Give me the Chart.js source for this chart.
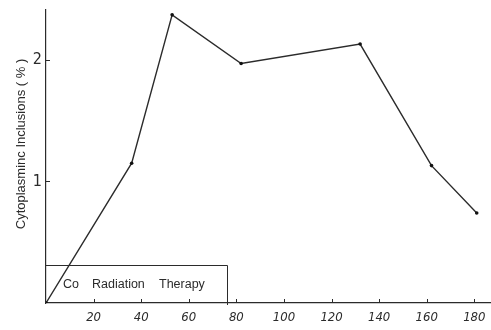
<!DOCTYPE html>
<html>
<head>
<meta charset="utf-8">
<script src="https://cdn.jsdelivr.net/npm/chart.js@4/dist/chart.umd.min.js"></script>
<style>
  html, body { margin: 0; padding: 0; background: #fff; }
  #wrap { width: 491px; height: 330px; }
</style>
</head>
<body>
<div id="wrap"><canvas id="myChart" width="491" height="330"></canvas></div>
<script>
// =======================
// Data
// =======================
const daysAfter = [0, 36, 53, 82, 132, 162, 181];
const inclusionPct = [0, 1.15, 2.37, 1.97, 2.13, 1.13, 0.74];

const xTickValues = [20, 40, 60, 80, 100, 120, 140, 160, 180];
const yTickValues = [1, 2];

// therapy period box: [x from, x to], height in y units
const therapyRange = [0, 76];
const therapyHeight = 0.31;
const therapyWords = ['Co', 'Radiation', 'Therapy'];

const yTitle = 'Cytoplasminc Inclusions ( % )';

// =======================
// Style
// =======================
const inkColor = '#2b2b2b';
const tickFont = '"Liberation Sans Narrow", "DejaVu Sans Condensed", "Liberation Sans", sans-serif';
const textFont = '"Liberation Sans", "DejaVu Sans", sans-serif';

// inside tick marks, therapy box, rotated y title
const extrasPlugin = {
  id: 'extras',
  afterDraw(chart) {
    const { ctx, scales: { x, y } } = chart;
    const x0 = x.getPixelForValue(0);
    const y0 = y.getPixelForValue(0);
    ctx.save();
    ctx.strokeStyle = inkColor;
    ctx.lineWidth = 1;

    // tick marks point into the plot
    xTickValues.forEach(v => {
      const px = Math.round(x.getPixelForValue(v)) + 0.5;
      ctx.beginPath();
      ctx.moveTo(px, y0);
      ctx.lineTo(px, y0 - 4);
      ctx.stroke();
    });
    yTickValues.forEach(v => {
      const py = Math.round(y.getPixelForValue(v)) + 0.5;
      ctx.beginPath();
      ctx.moveTo(x0, py);
      ctx.lineTo(x0 + 4, py);
      ctx.stroke();
    });

    // therapy box
    const bx1 = x.getPixelForValue(therapyRange[0]);
    const bx2 = Math.round(x.getPixelForValue(therapyRange[1])) + 0.5;
    const by = Math.round(y.getPixelForValue(therapyHeight)) + 0.5;
    ctx.beginPath();
    ctx.moveTo(bx1, by);
    ctx.lineTo(bx2, by);
    ctx.lineTo(bx2, y0 + 2);
    ctx.stroke();

    ctx.fillStyle = inkColor;
    ctx.font = '12.5px ' + textFont;
    ctx.textBaseline = 'middle';
    const ty = (by + y0) / 2;
    const offsets = [17, 46, 113];
    therapyWords.forEach((w, i) => ctx.fillText(w, bx1 + offsets[i], ty));

    // y title
    ctx.translate(21, 144);
    ctx.rotate(-Math.PI / 2);
    ctx.textAlign = 'center';
    ctx.font = '13px ' + textFont;
    ctx.fillText(yTitle, 0, 0);
    ctx.restore();
  }
};

const ctx = document.getElementById('myChart').getContext('2d');

new Chart(ctx, {
  type: 'line',
  data: {
    datasets: [{
      data: daysAfter.map((d, i) => ({ x: d, y: inclusionPct[i] })),
      borderColor: inkColor,
      borderWidth: 1.4,
      pointRadius: 1.8,
      pointBackgroundColor: '#111',
      pointBorderWidth: 0,
      tension: 0,
      fill: false
    }]
  },
  options: {
    responsive: false,
    animation: false,
    layout: { autoPadding: false, padding: { top: 10, right: 0, left: 0, bottom: 0 } },
    plugins: {
      legend: { display: false },
      tooltip: { enabled: false }
    },
    scales: {
      x: {
        type: 'linear',
        min: 0,
        max: 187,
        afterBuildTicks: s => { s.ticks = xTickValues.map(v => ({ value: v })); },
        afterFit: s => { s.height = 27; s.paddingLeft = 0; s.paddingRight = 0; },
        grid: { display: false, drawTicks: false },
        border: { display: true, color: inkColor, width: 1.2 },
        ticks: {
          padding: 7,
          color: inkColor,
          maxRotation: 0,
          font: { family: tickFont, size: 13, style: 'italic' }
        }
      },
      y: {
        min: 0,
        max: 2.41,
        afterBuildTicks: s => { s.ticks = yTickValues.map(v => ({ value: v })); },
        afterFit: s => { s.width = 46; s.paddingTop = 0; s.paddingBottom = 0; },
        grid: { display: false, drawTicks: false },
        border: { display: true, color: inkColor, width: 1.2 },
        ticks: {
          padding: 4,
          color: inkColor,
          font: { family: tickFont, size: 16 }
        }
      }
    }
  },
  plugins: [extrasPlugin]
});
</script>
</body>
</html>
